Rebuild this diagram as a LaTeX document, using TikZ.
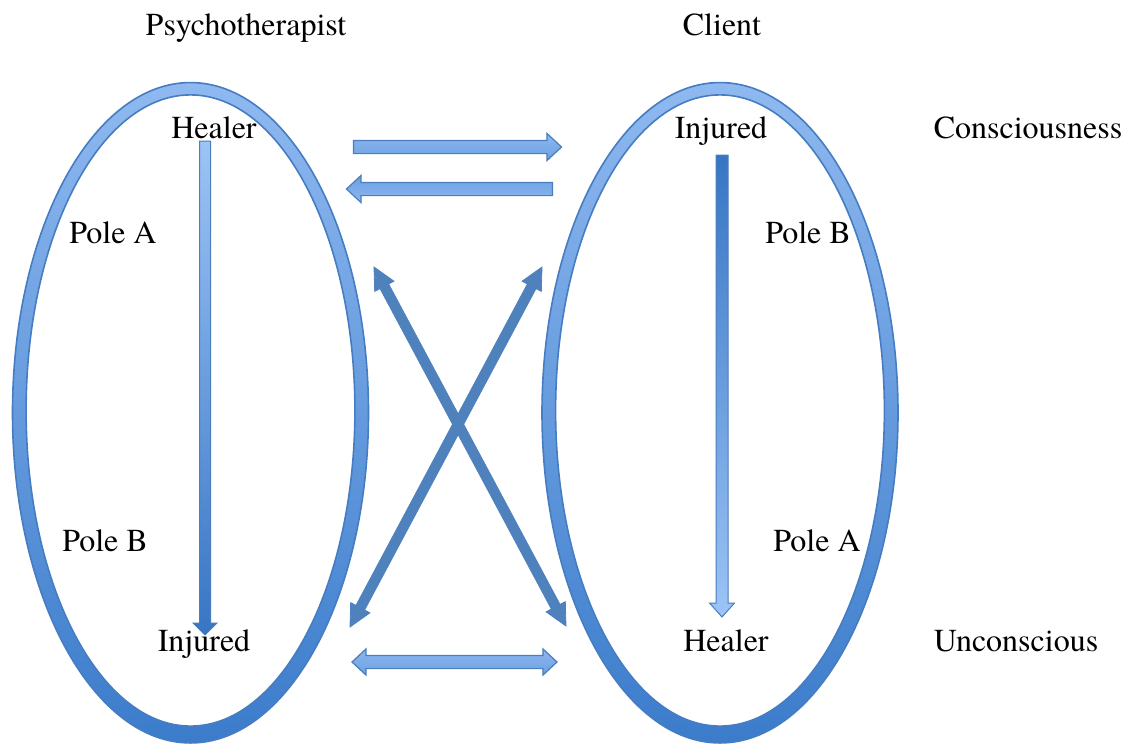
\documentclass[tikz,border=0pt]{standalone}
\usepackage{fontspec}
\setmainfont{texgyretermes-regular.otf}
\usetikzlibrary{shapes.arrows,calc,positioning}

\definecolor{ringtop}{HTML}{8FB9F0}
\definecolor{ringmid}{HTML}{84B0EC}
\definecolor{ringbot}{HTML}{3B7CCB}
\definecolor{ringedge}{HTML}{467DC2}
\definecolor{flattop}{HTML}{8DB8F2}
\definecolor{flatbot}{HTML}{6C9FE0}
\definecolor{arrowedge}{HTML}{4A7EBB}
\definecolor{crossblue}{HTML}{4F81BD}
\definecolor{stemdark}{HTML}{3775C4}
\definecolor{stemlight}{HTML}{9CC4F6}

% block arrow laid between two named points
\newcommand{\fatarrow}[3]{%
	\path let \p1=(#2), \p2=(#3), \n1={veclen(\x2-\x1,\y2-\y1)} in
		(#2) -- node[sloped,allow upside down,#1,minimum height=\n1] {} (#3);}
% downward stem: style, from, to, shaft half width, head half width, head length
\newcommand{\downstem}[6]{%
	\draw[#1] ($(#2)+(-#4,0)$) -- ($(#3)+(-#4,-#6)$) -- ($(#3)+(-#5,-#6)$) -- (#3)
		-- ($(#3)+(#5,-#6)$) -- ($(#3)+(#4,-#6)$) -- ($(#2)+(#4,0)$) -- cycle;}

\begin{document}
\begin{tikzpicture}[x=0.5pt,y=-0.5pt,font=\fontsize{16}{19}\selectfont,
		lbl/.style={anchor=base,inner sep=0pt},
		ring/.style={even odd rule,top color=ringtop,middle color=ringmid,bottom color=ringbot},
		ringline/.style={draw=ringedge,line width=0.8pt},
		flatarrow/.style={single arrow,draw=arrowedge,line width=0.6pt,top color=flattop,bottom color=flatbot,
			inner xsep=0pt,inner ysep=3pt,single arrow head extend=3.5pt,single arrow tip angle=86},
		flatboth/.style={double arrow,draw=arrowedge,line width=0.6pt,top color=flattop,bottom color=flatbot,
			inner xsep=0pt,inner ysep=3pt,double arrow head extend=3.25pt,double arrow tip angle=86},
		crossarrow/.style={double arrow,draw=crossblue,fill=crossblue,line width=0.4pt,
			inner xsep=0pt,inner ysep=2.25pt,double arrow head extend=3pt,double arrow tip angle=53},
		stemline/.style={draw=arrowedge,line width=0.5pt,line join=miter},
	]
	\useasboundingbox (0,0) rectangle (1124,745);

	\coordinate (psy) at (190.5,412.75);
	\coordinate (psyIn) at (190.5,410.5);
	\coordinate (cli) at (720,412.75);
	\coordinate (cliIn) at (720,410.5);

	\shade[ring] (psy) ellipse (89pt and 165.1pt) (psyIn) ellipse (82.2pt and 157.8pt);
	\draw[ringline] (psy) ellipse (89pt and 165.1pt) (psyIn) ellipse (82.2pt and 157.8pt);
	\shade[ring] (cli) ellipse (89pt and 165.1pt) (cliIn) ellipse (82.2pt and 157.8pt);
	\draw[ringline] (cli) ellipse (89pt and 165.1pt) (cliIn) ellipse (82.2pt and 157.8pt);

	\node[lbl] (psyTitle) at (246,35) {Psychotherapist};
	\node[lbl] (cliTitle) at (722,35) {Client};
	\node[lbl] (psyTop) at (214,138) {Healer};
	\node[lbl] (psyPoleA) at (113,243) {Pole A};
	\node[lbl] (psyPoleB) at (105,551) {Pole B};
	\node[lbl] (psyBot) at (204,651) {Injured};
	\node[lbl] (cliTop) at (721,138) {Injured};
	\node[lbl] (cliPoleB) at (808,243) {Pole B};
	\node[lbl] (cliPoleA) at (817,551) {Pole A};
	\node[lbl] (cliBot) at (726,651) {Healer};
	\node[lbl] (conscious) at (1028,138) {Consciousness};
	\node[lbl] (unconscious) at (1016,651) {Unconscious};

	\coordinate (psyStemA) at (205,141);
	\coordinate (psyStemB) at (205,635);
	\coordinate (cliStemA) at (722,155);
	\coordinate (cliStemB) at (722,617);
	\coordinate (topL) at (350,147);
	\coordinate (topR) at (558,147);
	\coordinate (midL) at (350,189);
	\coordinate (midR) at (556,189);
	\coordinate (lowL) at (352,662);
	\coordinate (lowR) at (557,662);
	\coordinate (crossUL) at (374,267);
	\coordinate (crossLR) at (566,626);
	\coordinate (crossUR) at (542,267);
	\coordinate (crossLL) at (350,627);

	\downstem{stemline,top color=stemlight,bottom color=stemdark}{psyStemA}{psyStemB}{5.5}{12}{12}
	\downstem{stemline,top color=stemdark,bottom color=stemlight}{cliStemA}{cliStemB}{6}{12.5}{14}
	\fatarrow{flatarrow}{topL}{topR}
	\fatarrow{flatarrow,top color=flatbot,bottom color=flattop}{midR}{midL}
	\fatarrow{flatboth}{lowL}{lowR}
	\fatarrow{crossarrow}{crossUL}{crossLR}
	\fatarrow{crossarrow}{crossUR}{crossLL}
\end{tikzpicture}
\end{document}
